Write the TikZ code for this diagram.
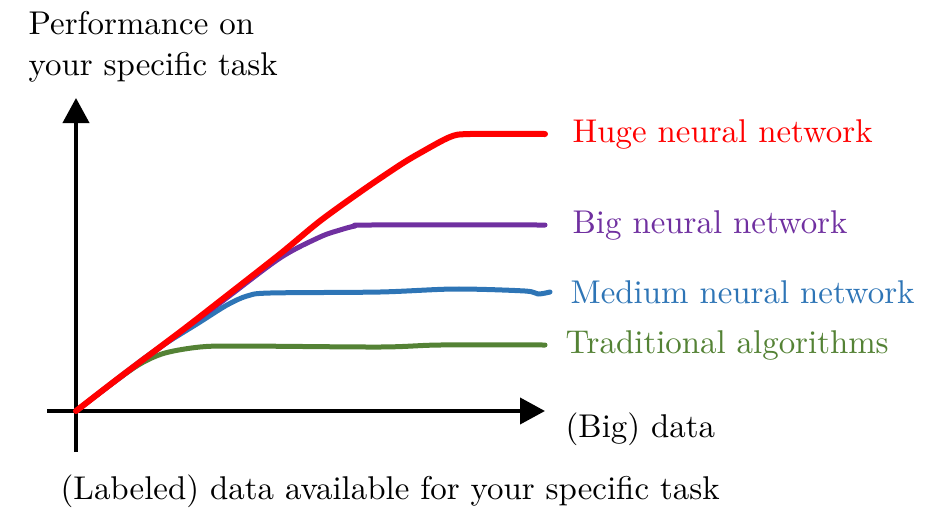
\documentclass[tikz,border=0pt]{standalone}
\usepackage{tikz}
\usetikzlibrary{arrows.meta,positioning}
\definecolor{hugered}{HTML}{FF0000}
\definecolor{bigpurple}{HTML}{7030A0}
\definecolor{mediumblue}{HTML}{2E75B6}
\definecolor{tradgreen}{HTML}{548235}
\tikzstyle{axisline} = [draw, line width=4pt, -{Triangle[width=26pt,length=25pt]}]
\tikzstyle{perf} = [draw, line width=5pt, line cap=round, line join=round,
smooth, tension=0.5]
\tikzstyle{tag} = [inner sep=0pt, font=\fontsize{10}{12.2}\selectfont,
scale=3.29, transform shape]

\begin{document}
\begin{tikzpicture}[x=1pt, y=-1pt]
			\useasboundingbox (0,0) rectangle (942,507);
			% Axes
			\coordinate (origin) at (76,411);
			\coordinate (ybottom) at (76,452);
			\coordinate (ytop) at (76,98);
			\coordinate (xleft) at (47,411);
			\coordinate (xright) at (545,411);
			\path [axisline] (ybottom) -- (ytop);
			\path [axisline] (xleft) -- (xright);
			% Ends of the curves
			\coordinate (tradend) at (545,345);
			\coordinate (mediumend) at (550,292);
			\coordinate (bigend) at (545,225);
			\coordinate (hugeend) at (545,134);
			% Curves
			\path [perf, tradgreen] plot coordinates {(origin) (110,385)
				(140,364) (165,353) (200,347) (240,346) (380,347) (440,345) (tradend)};
			\path [perf, mediumblue] plot coordinates {(origin) (150,354)
				(200,322) (227,305) (247,296) (270,293) (380,292) (455,289) (525,291)
				(538,294) (mediumend)};
			\path [perf, bigpurple] plot coordinates {(origin) (150,355)
				(220,303) (280,258) (320,237) (340,230) (355,226) (370,225) (bigend)};
			\path [perf, hugered, line width=6pt] plot coordinates {(origin)
				(120,377) (180,332) (220,301) (280,254) (320,221) (363,190) (400,165)
				(420,153) (450,137) (470,134) (hugeend)};
			% Labels
			\node [tag, text=hugered, right=27pt of hugeend] (huge) {Huge neural network};
			\node [tag, text=bigpurple, right=27pt of bigend] (big) {Big neural network};
			\node [tag, text=mediumblue, right=20pt of mediumend] (medium)
			{Medium neural network};
			\node [tag, text=tradgreen, right=20pt of tradend] (trad)
			{Traditional algorithms};
			\node [tag, anchor=base west, align=left] (ylabel) at (28,75)
			{Performance on\\your specific task};
			\node [tag, anchor=base west] (xlabel) at (565,437) {(Big) data};
			\node [tag, anchor=base west] (caption) at (60,499)
			{(Labeled) data available for your specific task};
		\end{tikzpicture}
\end{document}
